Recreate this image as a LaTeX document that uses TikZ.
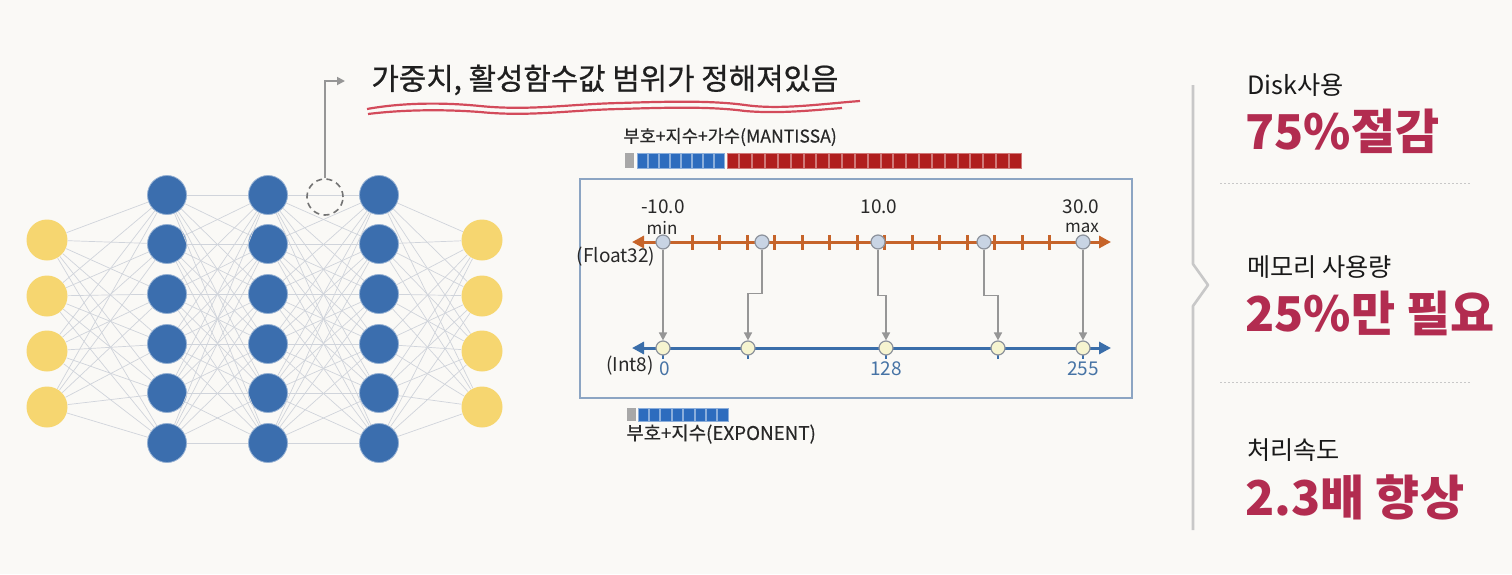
\documentclass[tikz,border=0pt]{standalone}
\usepackage{fontspec}
\setmainfont{Noto Sans CJK KR}
\usetikzlibrary{arrows.meta}
\definecolor{bg}{RGB}{250,249,246}
\definecolor{nnyellow}{RGB}{246,214,112}
\definecolor{nnblue}{RGB}{59,110,174}
\definecolor{edgegray}{RGB}{208,212,219}
\definecolor{axorange}{RGB}{198,100,42}
\definecolor{axblue}{RGB}{58,110,170}
\definecolor{fptfill}{RGB}{200,212,228}
\definecolor{iptfill}{RGB}{246,244,208}
\definecolor{ptgray}{RGB}{140,146,156}
\definecolor{conngray}{RGB}{150,150,150}
\definecolor{darktext}{RGB}{40,40,40}
\definecolor{numblue}{RGB}{70,115,165}
\definecolor{boxblue}{RGB}{140,165,195}
\definecolor{bitgray}{RGB}{168,168,168}
\definecolor{bitblue}{RGB}{45,108,190}
\definecolor{bitred}{RGB}{176,30,30}
\definecolor{crimson}{RGB}{178,44,80}
\definecolor{wavered}{RGB}{205,45,65}
\definecolor{panelgray}{RGB}{200,200,200}
\begin{document}
\begin{tikzpicture}[x=0.5pt,y=-0.5pt,
  ynode/.style={circle, fill=nnyellow, minimum size=20.5pt, inner sep=0pt},
  bnode/.style={circle, fill=nnblue, draw=nnblue!55!white, line width=0.4pt, minimum size=19.5pt, inner sep=0pt},
  nnedge/.style={draw=edgegray, line width=0.35pt},
  fpt/.style={circle, fill=fptfill, draw=ptgray, line width=0.6pt, minimum size=7pt, inner sep=0pt},
  ipt/.style={circle, fill=iptfill, draw=ptgray, line width=0.6pt, minimum size=7pt, inner sep=0pt},
  conn/.style={draw=conngray, line width=0.8pt, -{Triangle[length=4pt,width=4pt]}},
  lbl/.style={font=\fontsize{9.5}{10}\selectfont, text=darktext, inner sep=0pt},
  numlbl/.style={font=\fontsize{9.5}{10}\selectfont, text=numblue, inner sep=0pt},
  bitlbl/.style={text=darktext, inner sep=0pt, anchor=west},
  smalltxt/.style={font=\fontsize{12.6}{13}\selectfont, text=black!90, inner sep=0pt, anchor=west},
  bigtxt/.style={font=\fontsize{24}{26}\selectfont\bfseries, text=crimson, inner sep=0pt, anchor=west},
  bitcell/.style={line width=0.4pt},
  ax/.style={line width=1.5pt, {Triangle[length=6pt,width=6pt]}-{Triangle[length=6pt,width=6pt]}},
  sep/.style={draw=panelgray, line width=0.5pt, dash pattern=on 1pt off 1pt}
]
\fill[bg] (0,0) rectangle (1512,574);
\useasboundingbox (0,0) rectangle (1512,574);

% ---------------- neural network ----------------
\foreach \y [count=\i] in {240,296,351,407} {
  \node[ynode] (a\i) at (47,\y) {};
  \node[ynode] (e\i) at (482,\y) {};
}
\foreach \y [count=\i] in {195,244,294,344,393,443} {
  \node[bnode] (b\i) at (167,\y) {};
  \node[bnode] (c\i) at (268,\y) {};
  \node[bnode] (d\i) at (379,\y) {};
}
\foreach \i in {1,...,4} { \foreach \j in {1,...,6} {
  \draw[nnedge] (a\i) -- (b\j);
  \draw[nnedge] (d\j) -- (e\i);
}}
\foreach \i in {1,...,6} { \foreach \j in {1,...,6} {
  \draw[nnedge] (b\i) -- (c\j);
  \draw[nnedge] (c\i) -- (d\j);
}}
\node[circle, draw=black!55, dash pattern=on 3pt off 2.2pt, line width=0.8pt, minimum size=18pt, inner sep=0pt] (w) at (325,197) {};

% ---------------- title ----------------
\coordinate (ta) at (345,81);
\draw[draw=conngray, line width=0.9pt, -{Triangle[length=4pt,width=4pt]}] (w.north) -- (325,81) -- (ta);
\node[anchor=west, inner sep=0pt, font=\fontsize{14.9}{16}\selectfont\addfontfeatures{FakeBold=0.7}, text=black!88] (title) at (371,80) {가중치, 활성함수값 범위가 정해져있음};
\draw[wavered, line width=1.1pt, opacity=0.85] (367,109) .. controls (400,103) and (440,102) .. (480,106) .. controls (530,111) and (570,104) .. (620,103) .. controls (680,101) and (715,101) .. (745,105) .. controls (780,110) and (820,104) .. (860,101);
\draw[wavered, line width=1.1pt, opacity=0.85] (368,114) .. controls (400,110) and (440,109) .. (480,112) .. controls (530,117) and (570,110) .. (620,109) .. controls (680,107) and (715,107) .. (745,111) .. controls (780,114) and (815,110) .. (842,108);

% ---------------- float32 bits ----------------
\node[bitlbl, font=\fontsize{8.8}{9}\selectfont\addfontfeatures{FakeBold=0.4}] (toplbl) at (623,137) {부호+지수+가수(MANTISSA)};
\fill[bitgray] (625,153) rectangle (634,168);
\foreach \k in {0,...,7} {
  \filldraw[bitcell, fill=bitblue, draw=bitblue!55!white] ({637+11*\k},153) rectangle ++(10,15);
}
\foreach \k in {0,...,22} {
  \filldraw[bitcell, fill=bitred, draw=bitred!60!white] ({727+12.83*\k},153) rectangle ++(11.8,15);
}

% ---------------- quantization box ----------------
\draw[boxblue, line width=0.9pt] (580,179) rectangle (1132,398);

\coordinate (fl) at (632,242);
\coordinate (fr) at (1111,242);
\coordinate (il) at (632,348);
\coordinate (ir) at (1111,348);
\draw[ax, axorange] (fl) -- (fr);
\draw[ax, axblue] (il) -- (ir);
\foreach \k in {0,...,13} {
  \draw[axorange, line width=1.5pt] ({692+27.5*\k},235) -- ++(0,15);
}

\node[fpt] (f1) at (663,242) {};
\node[fpt] (f2) at (762,242) {};
\node[fpt] (f3) at (878,242) {};
\node[fpt] (f4) at (984,242) {};
\node[fpt] (f5) at (1083,242) {};

\foreach \x in {663,748,886,998,1083} {
  \draw[axblue, line width=1.3pt] (\x,352) -- (\x,359);
}
\node[ipt] (i1) at (663,348) {};
\node[ipt] (i2) at (748,348) {};
\node[ipt] (i3) at (886,348) {};
\node[ipt] (i4) at (998,348) {};
\node[ipt] (i5) at (1083,348) {};

\draw[conn] (f1.south) -- (i1.north);
\draw[conn] (f2.south) -- ++(0,44) -| (i2.north);
\draw[conn] (f3.south) -- ++(0,46) -| (i3.north);
\draw[conn] (f4.south) -- ++(0,46) -| (i4.north);
\draw[conn] (f5.south) -- (i5.north);

\node[lbl] (m10) at (663,207) {-10.0};
\node[lbl, font=\fontsize{8.5}{9}\selectfont] (mn) at (662,228) {min};
\node[lbl] (p10) at (879,207) {10.0};
\node[lbl] (p30) at (1081,207) {30.0};
\node[lbl, font=\fontsize{8.5}{9}\selectfont] (mx) at (1082,228) {max};
\node[lbl] (fl32) at (616,257) {(Float32)};
\node[lbl] (in8) at (630,366) {(Int8)};
\node[numlbl] (n0) at (665,369) {0};
\node[numlbl] (n128) at (886,369) {128};
\node[numlbl] (n255) at (1083,369) {255};

% ---------------- int8 bits ----------------
\fill[bitgray] (627,408) rectangle (636,421);
\foreach \k in {0,...,7} {
  \filldraw[bitcell, fill=bitblue, draw=bitblue!55!white] ({638+11.4*\k},408) rectangle ++(10.4,13);
}
\node[bitlbl, font=\fontsize{9.4}{10}\selectfont\addfontfeatures{FakeBold=0.4}] (botlbl) at (626,434) {부호+지수(EXPONENT)};

% ---------------- right panel ----------------
\draw[panelgray, line width=1.3pt, line join=round] (1193,85) -- (1193,264) -- (1208,285) -- (1193,306) -- (1193,530);
\draw[sep] (1220,183) -- (1472,183);
\draw[sep] (1220,382) -- (1472,382);

\node[smalltxt] (t1) at (1247,85) {Disk사용};
\node[bigtxt] (v1) at (1245,131) {75\%절감};
\node[smalltxt] (t2) at (1247,267) {메모리 사용량};
\node[bigtxt] (v2) at (1245,313) {25\%만 필요};
\node[smalltxt] (t3) at (1247,450) {처리속도};
\node[bigtxt] (v3) at (1245,497) {2.3배 향상};
\end{tikzpicture}
\end{document}
